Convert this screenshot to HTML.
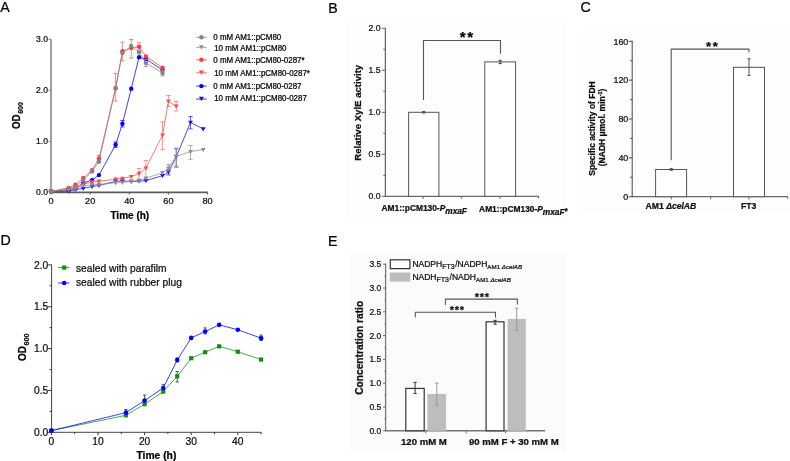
<!DOCTYPE html><html><head><meta charset="utf-8"><style>html,body{margin:0;padding:0;background:#fff;width:790px;height:461px;overflow:hidden}svg{display:block;will-change:transform;filter:blur(0.3px)}text{font-family:"Liberation Sans",sans-serif;stroke:currentColor;stroke-width:0.22px}</style></head><body>
<svg width="790" height="461" viewBox="0 0 790 461">
<rect width="790" height="461" fill="#fff"/>
<rect x="345" y="21.7" width="221" height="195.7" fill="#fdfdfd"/>
<rect x="582" y="29.8" width="208" height="182.2" fill="#fdfdfd"/>
<rect x="350" y="253.8" width="216" height="198" fill="#fbfbfb"/>
<text transform="translate(0.20,11.50) scale(1,1.04)" font-size="14.2" text-anchor="start" fill="#000" >A</text>
<text transform="translate(328.20,12.70) scale(1,1.04)" font-size="14.2" text-anchor="start" fill="#000" >B</text>
<text transform="translate(580.50,12.40) scale(1,1.04)" font-size="14.2" text-anchor="start" fill="#000" >C</text>
<text transform="translate(0.60,245.20) scale(1,1.04)" font-size="14.2" text-anchor="start" fill="#000" >D</text>
<text transform="translate(328.00,245.90) scale(1,1.04)" font-size="14.2" text-anchor="start" fill="#000" >E</text>
<line x1="51.00" y1="39.30" x2="51.00" y2="193.00" stroke="#888" stroke-width="1.6"/>
<line x1="50.20" y1="192.40" x2="207.70" y2="192.40" stroke="#5a5a5a" stroke-width="1.6"/>
<line x1="48.60" y1="39.30" x2="51.00" y2="39.30" stroke="#888" stroke-width="1.2"/>
<text transform="translate(48.00,195.40) scale(1,1.07)" font-size="8.6" text-anchor="end" fill="#111" >0.0</text>
<line x1="48.60" y1="141.35" x2="51.00" y2="141.35" stroke="#888" stroke-width="1.1"/>
<text transform="translate(48.00,144.35) scale(1,1.07)" font-size="8.6" text-anchor="end" fill="#111" >1.0</text>
<line x1="48.60" y1="90.30" x2="51.00" y2="90.30" stroke="#888" stroke-width="1.1"/>
<text transform="translate(48.00,93.30) scale(1,1.07)" font-size="8.6" text-anchor="end" fill="#111" >2.0</text>
<text transform="translate(48.00,42.00) scale(1,1.07)" font-size="8.6" text-anchor="end" fill="#111" >3.0</text>
<line x1="51.00" y1="192.40" x2="51.00" y2="194.40" stroke="#5a5a5a" stroke-width="1.1"/>
<text transform="translate(51.00,203.80) scale(1,1.07)" font-size="9.2" text-anchor="middle" fill="#111" >0</text>
<line x1="90.14" y1="192.40" x2="90.14" y2="194.40" stroke="#5a5a5a" stroke-width="1.1"/>
<text transform="translate(90.14,203.80) scale(1,1.07)" font-size="9.2" text-anchor="middle" fill="#111" >20</text>
<line x1="129.28" y1="192.40" x2="129.28" y2="194.40" stroke="#5a5a5a" stroke-width="1.1"/>
<text transform="translate(129.28,203.80) scale(1,1.07)" font-size="9.2" text-anchor="middle" fill="#111" >40</text>
<line x1="168.42" y1="192.40" x2="168.42" y2="194.40" stroke="#5a5a5a" stroke-width="1.1"/>
<text transform="translate(168.42,203.80) scale(1,1.07)" font-size="9.2" text-anchor="middle" fill="#111" >60</text>
<line x1="207.56" y1="192.40" x2="207.56" y2="194.40" stroke="#5a5a5a" stroke-width="1.1"/>
<text transform="translate(207.56,203.80) scale(1,1.07)" font-size="9.2" text-anchor="middle" fill="#111" >80</text>
<text x="129.80" y="218.70" font-size="10" text-anchor="middle" font-weight="bold" fill="#000" >Time (h)</text>
<text transform="translate(20.4,129.0) rotate(-90) scale(1,1.1)" font-size="9.7" font-weight="bold" fill="#000">OD<tspan font-size="7.1" dy="2.0" dx="0.6">600</tspan></text>
<polyline points="51.00,191.50 68.61,191.00 75.46,189.70 83.29,188.40 92.10,186.50 98.95,185.50 115.58,181.30 122.43,181.00 131.24,181.50 139.06,181.20 145.91,180.60 162.55,175.70 168.42,172.20 176.25,156.80 190.53,122.40 203.25,129.00" fill="none" stroke="#1010f0" stroke-width="0.75" stroke-linejoin="round"/>
<line x1="190.53" y1="116.60" x2="190.53" y2="128.90" stroke="#2a2aee" stroke-width="0.75"/>
<line x1="188.33" y1="116.60" x2="192.73" y2="116.60" stroke="#2a2aee" stroke-width="0.75"/>
<line x1="188.33" y1="128.90" x2="192.73" y2="128.90" stroke="#2a2aee" stroke-width="0.75"/>
<line x1="176.25" y1="148.90" x2="176.25" y2="167.10" stroke="#2a2aee" stroke-width="0.75"/>
<line x1="174.05" y1="148.90" x2="178.45" y2="148.90" stroke="#2a2aee" stroke-width="0.75"/>
<line x1="174.05" y1="167.10" x2="178.45" y2="167.10" stroke="#2a2aee" stroke-width="0.75"/>
<line x1="168.42" y1="170.00" x2="168.42" y2="175.00" stroke="#2a2aee" stroke-width="0.75"/>
<line x1="166.22" y1="170.00" x2="170.62" y2="170.00" stroke="#2a2aee" stroke-width="0.75"/>
<line x1="166.22" y1="175.00" x2="170.62" y2="175.00" stroke="#2a2aee" stroke-width="0.75"/>
<path d="M48.60,189.82L53.40,189.82L51.00,193.90Z" fill="#1010f0"/>
<path d="M66.21,189.32L71.01,189.32L68.61,193.40Z" fill="#1010f0"/>
<path d="M73.06,188.02L77.86,188.02L75.46,192.10Z" fill="#1010f0"/>
<path d="M80.89,186.72L85.69,186.72L83.29,190.80Z" fill="#1010f0"/>
<path d="M89.70,184.82L94.50,184.82L92.10,188.90Z" fill="#1010f0"/>
<path d="M96.55,183.82L101.35,183.82L98.95,187.90Z" fill="#1010f0"/>
<path d="M113.18,179.62L117.98,179.62L115.58,183.70Z" fill="#1010f0"/>
<path d="M120.03,179.32L124.83,179.32L122.43,183.40Z" fill="#1010f0"/>
<path d="M128.84,179.82L133.64,179.82L131.24,183.90Z" fill="#1010f0"/>
<path d="M136.66,179.52L141.47,179.52L139.06,183.60Z" fill="#1010f0"/>
<path d="M143.51,178.92L148.31,178.92L145.91,183.00Z" fill="#1010f0"/>
<path d="M160.15,174.02L164.95,174.02L162.55,178.10Z" fill="#1010f0"/>
<path d="M166.02,170.52L170.82,170.52L168.42,174.60Z" fill="#1010f0"/>
<path d="M173.85,155.12L178.65,155.12L176.25,159.20Z" fill="#1010f0"/>
<path d="M188.13,120.72L192.93,120.72L190.53,124.80Z" fill="#1010f0"/>
<path d="M200.85,127.32L205.65,127.32L203.25,131.40Z" fill="#1010f0"/>
<polyline points="51.00,191.50 68.61,190.30 75.46,188.50 83.29,182.90 92.10,180.10 98.95,175.10 115.58,144.80 122.43,123.80 131.24,88.70 139.06,57.30 145.91,59.20 162.55,70.00" fill="none" stroke="#0000ff" stroke-width="0.75" stroke-linejoin="round"/>
<line x1="122.43" y1="120.50" x2="122.43" y2="127.00" stroke="#2020ff" stroke-width="0.75"/>
<line x1="120.23" y1="120.50" x2="124.63" y2="120.50" stroke="#2020ff" stroke-width="0.75"/>
<line x1="120.23" y1="127.00" x2="124.63" y2="127.00" stroke="#2020ff" stroke-width="0.75"/>
<line x1="115.58" y1="142.00" x2="115.58" y2="147.50" stroke="#2020ff" stroke-width="0.75"/>
<line x1="113.38" y1="142.00" x2="117.78" y2="142.00" stroke="#2020ff" stroke-width="0.75"/>
<line x1="113.38" y1="147.50" x2="117.78" y2="147.50" stroke="#2020ff" stroke-width="0.75"/>
<circle cx="51.00" cy="191.50" r="2.2" fill="#0000ff"/>
<circle cx="68.61" cy="190.30" r="2.2" fill="#0000ff"/>
<circle cx="75.46" cy="188.50" r="2.2" fill="#0000ff"/>
<circle cx="83.29" cy="182.90" r="2.2" fill="#0000ff"/>
<circle cx="92.10" cy="180.10" r="2.2" fill="#0000ff"/>
<circle cx="98.95" cy="175.10" r="2.2" fill="#0000ff"/>
<circle cx="115.58" cy="144.80" r="2.2" fill="#0000ff"/>
<circle cx="122.43" cy="123.80" r="2.2" fill="#0000ff"/>
<circle cx="131.24" cy="88.70" r="2.2" fill="#0000ff"/>
<circle cx="139.06" cy="57.30" r="2.2" fill="#0000ff"/>
<circle cx="145.91" cy="59.20" r="2.2" fill="#0000ff"/>
<circle cx="162.55" cy="70.00" r="2.2" fill="#0000ff"/>
<polyline points="51.00,191.50 68.61,189.50 75.46,187.50 83.29,184.20 92.10,182.00 98.95,181.30 115.58,179.20 122.43,178.40 131.24,176.70 139.06,173.50 145.91,168.20 162.55,135.20 168.42,101.20 176.25,106.30" fill="none" stroke="#ff4a4a" stroke-width="0.75" stroke-linejoin="round"/>
<line x1="162.55" y1="121.80" x2="162.55" y2="149.60" stroke="#f87070" stroke-width="0.75"/>
<line x1="160.35" y1="121.80" x2="164.75" y2="121.80" stroke="#f87070" stroke-width="0.75"/>
<line x1="160.35" y1="149.60" x2="164.75" y2="149.60" stroke="#f87070" stroke-width="0.75"/>
<line x1="168.42" y1="95.50" x2="168.42" y2="106.50" stroke="#f87070" stroke-width="0.75"/>
<line x1="166.22" y1="95.50" x2="170.62" y2="95.50" stroke="#f87070" stroke-width="0.75"/>
<line x1="166.22" y1="106.50" x2="170.62" y2="106.50" stroke="#f87070" stroke-width="0.75"/>
<line x1="176.25" y1="101.50" x2="176.25" y2="111.00" stroke="#f87070" stroke-width="0.75"/>
<line x1="174.05" y1="101.50" x2="178.45" y2="101.50" stroke="#f87070" stroke-width="0.75"/>
<line x1="174.05" y1="111.00" x2="178.45" y2="111.00" stroke="#f87070" stroke-width="0.75"/>
<line x1="145.91" y1="160.50" x2="145.91" y2="177.50" stroke="#f87070" stroke-width="0.75"/>
<line x1="143.71" y1="160.50" x2="148.11" y2="160.50" stroke="#f87070" stroke-width="0.75"/>
<line x1="143.71" y1="177.50" x2="148.11" y2="177.50" stroke="#f87070" stroke-width="0.75"/>
<line x1="139.06" y1="168.50" x2="139.06" y2="179.00" stroke="#f87070" stroke-width="0.75"/>
<line x1="136.87" y1="168.50" x2="141.26" y2="168.50" stroke="#f87070" stroke-width="0.75"/>
<line x1="136.87" y1="179.00" x2="141.26" y2="179.00" stroke="#f87070" stroke-width="0.75"/>
<path d="M48.60,189.82L53.40,189.82L51.00,193.90Z" fill="#ff4a4a"/>
<path d="M66.21,187.82L71.01,187.82L68.61,191.90Z" fill="#ff4a4a"/>
<path d="M73.06,185.82L77.86,185.82L75.46,189.90Z" fill="#ff4a4a"/>
<path d="M80.89,182.52L85.69,182.52L83.29,186.60Z" fill="#ff4a4a"/>
<path d="M89.70,180.32L94.50,180.32L92.10,184.40Z" fill="#ff4a4a"/>
<path d="M96.55,179.62L101.35,179.62L98.95,183.70Z" fill="#ff4a4a"/>
<path d="M113.18,177.52L117.98,177.52L115.58,181.60Z" fill="#ff4a4a"/>
<path d="M120.03,176.72L124.83,176.72L122.43,180.80Z" fill="#ff4a4a"/>
<path d="M128.84,175.02L133.64,175.02L131.24,179.10Z" fill="#ff4a4a"/>
<path d="M136.66,171.82L141.47,171.82L139.06,175.90Z" fill="#ff4a4a"/>
<path d="M143.51,166.52L148.31,166.52L145.91,170.60Z" fill="#ff4a4a"/>
<path d="M160.15,133.52L164.95,133.52L162.55,137.60Z" fill="#ff4a4a"/>
<path d="M166.02,99.52L170.82,99.52L168.42,103.60Z" fill="#ff4a4a"/>
<path d="M173.85,104.62L178.65,104.62L176.25,108.70Z" fill="#ff4a4a"/>
<polyline points="51.00,191.50 68.61,188.00 75.46,184.60 83.29,178.00 92.10,170.20 98.95,158.50 115.58,88.00 122.43,51.20 131.24,48.00 139.06,46.80 145.91,56.40 162.55,67.80" fill="none" stroke="#ff3b3b" stroke-width="0.75" stroke-linejoin="round"/>
<line x1="115.58" y1="73.40" x2="115.58" y2="101.20" stroke="#f56a6a" stroke-width="0.75"/>
<line x1="113.38" y1="73.40" x2="117.78" y2="73.40" stroke="#f56a6a" stroke-width="0.75"/>
<line x1="113.38" y1="101.20" x2="117.78" y2="101.20" stroke="#f56a6a" stroke-width="0.75"/>
<line x1="122.43" y1="42.20" x2="122.43" y2="60.90" stroke="#f56a6a" stroke-width="0.75"/>
<line x1="120.23" y1="42.20" x2="124.63" y2="42.20" stroke="#f56a6a" stroke-width="0.75"/>
<line x1="120.23" y1="60.90" x2="124.63" y2="60.90" stroke="#f56a6a" stroke-width="0.75"/>
<line x1="139.06" y1="42.80" x2="139.06" y2="50.00" stroke="#f56a6a" stroke-width="0.75"/>
<line x1="136.87" y1="42.80" x2="141.26" y2="42.80" stroke="#f56a6a" stroke-width="0.75"/>
<line x1="136.87" y1="50.00" x2="141.26" y2="50.00" stroke="#f56a6a" stroke-width="0.75"/>
<line x1="98.95" y1="155.50" x2="98.95" y2="161.00" stroke="#f56a6a" stroke-width="0.75"/>
<line x1="96.75" y1="155.50" x2="101.15" y2="155.50" stroke="#f56a6a" stroke-width="0.75"/>
<line x1="96.75" y1="161.00" x2="101.15" y2="161.00" stroke="#f56a6a" stroke-width="0.75"/>
<circle cx="51.00" cy="191.50" r="2.2" fill="#ff3b3b"/>
<circle cx="68.61" cy="188.00" r="2.2" fill="#ff3b3b"/>
<circle cx="75.46" cy="184.60" r="2.2" fill="#ff3b3b"/>
<circle cx="83.29" cy="178.00" r="2.2" fill="#ff3b3b"/>
<circle cx="92.10" cy="170.20" r="2.2" fill="#ff3b3b"/>
<circle cx="98.95" cy="158.50" r="2.2" fill="#ff3b3b"/>
<circle cx="115.58" cy="88.00" r="2.2" fill="#ff3b3b"/>
<circle cx="122.43" cy="51.20" r="2.2" fill="#ff3b3b"/>
<circle cx="131.24" cy="48.00" r="2.2" fill="#ff3b3b"/>
<circle cx="139.06" cy="46.80" r="2.2" fill="#ff3b3b"/>
<circle cx="145.91" cy="56.40" r="2.2" fill="#ff3b3b"/>
<circle cx="162.55" cy="67.80" r="2.2" fill="#ff3b3b"/>
<polyline points="51.00,191.50 68.61,190.00 75.46,189.00 83.29,185.80 92.10,184.80 98.95,184.50 115.58,182.80 122.43,182.50 131.24,181.20 139.06,180.60 145.91,178.30 162.55,172.60 168.42,168.10 176.25,156.40 190.53,151.60 203.25,149.60" fill="none" stroke="#8f8f8f" stroke-width="0.75" stroke-linejoin="round"/>
<line x1="190.53" y1="145.50" x2="190.53" y2="159.30" stroke="#959595" stroke-width="0.75"/>
<line x1="188.33" y1="145.50" x2="192.73" y2="145.50" stroke="#959595" stroke-width="0.75"/>
<line x1="188.33" y1="159.30" x2="192.73" y2="159.30" stroke="#959595" stroke-width="0.75"/>
<line x1="176.25" y1="148.00" x2="176.25" y2="166.00" stroke="#959595" stroke-width="0.75"/>
<line x1="174.05" y1="148.00" x2="178.45" y2="148.00" stroke="#959595" stroke-width="0.75"/>
<line x1="174.05" y1="166.00" x2="178.45" y2="166.00" stroke="#959595" stroke-width="0.75"/>
<line x1="168.42" y1="164.50" x2="168.42" y2="171.00" stroke="#959595" stroke-width="0.75"/>
<line x1="166.22" y1="164.50" x2="170.62" y2="164.50" stroke="#959595" stroke-width="0.75"/>
<line x1="166.22" y1="171.00" x2="170.62" y2="171.00" stroke="#959595" stroke-width="0.75"/>
<path d="M48.60,189.82L53.40,189.82L51.00,193.90Z" fill="#8f8f8f"/>
<path d="M66.21,188.32L71.01,188.32L68.61,192.40Z" fill="#8f8f8f"/>
<path d="M73.06,187.32L77.86,187.32L75.46,191.40Z" fill="#8f8f8f"/>
<path d="M80.89,184.12L85.69,184.12L83.29,188.20Z" fill="#8f8f8f"/>
<path d="M89.70,183.12L94.50,183.12L92.10,187.20Z" fill="#8f8f8f"/>
<path d="M96.55,182.82L101.35,182.82L98.95,186.90Z" fill="#8f8f8f"/>
<path d="M113.18,181.12L117.98,181.12L115.58,185.20Z" fill="#8f8f8f"/>
<path d="M120.03,180.82L124.83,180.82L122.43,184.90Z" fill="#8f8f8f"/>
<path d="M128.84,179.52L133.64,179.52L131.24,183.60Z" fill="#8f8f8f"/>
<path d="M136.66,178.92L141.47,178.92L139.06,183.00Z" fill="#8f8f8f"/>
<path d="M143.51,176.62L148.31,176.62L145.91,180.70Z" fill="#8f8f8f"/>
<path d="M160.15,170.92L164.95,170.92L162.55,175.00Z" fill="#8f8f8f"/>
<path d="M166.02,166.42L170.82,166.42L168.42,170.50Z" fill="#8f8f8f"/>
<path d="M173.85,154.72L178.65,154.72L176.25,158.80Z" fill="#8f8f8f"/>
<path d="M188.13,149.92L192.93,149.92L190.53,154.00Z" fill="#8f8f8f"/>
<path d="M200.85,147.92L205.65,147.92L203.25,152.00Z" fill="#8f8f8f"/>
<polyline points="51.00,191.50 68.61,188.20 75.46,186.70 83.29,180.00 92.10,171.50 98.95,161.70 115.58,88.50 122.43,53.10 131.24,46.00 139.06,52.20 145.91,63.00 162.55,73.00" fill="none" stroke="#858585" stroke-width="0.75" stroke-linejoin="round"/>
<line x1="131.24" y1="39.50" x2="131.24" y2="58.10" stroke="#8a8a8a" stroke-width="0.75"/>
<line x1="129.04" y1="39.50" x2="133.44" y2="39.50" stroke="#8a8a8a" stroke-width="0.75"/>
<line x1="129.04" y1="58.10" x2="133.44" y2="58.10" stroke="#8a8a8a" stroke-width="0.75"/>
<line x1="145.91" y1="59.50" x2="145.91" y2="66.50" stroke="#8a8a8a" stroke-width="0.75"/>
<line x1="143.71" y1="59.50" x2="148.11" y2="59.50" stroke="#8a8a8a" stroke-width="0.75"/>
<line x1="143.71" y1="66.50" x2="148.11" y2="66.50" stroke="#8a8a8a" stroke-width="0.75"/>
<line x1="162.55" y1="70.50" x2="162.55" y2="75.80" stroke="#8a8a8a" stroke-width="0.75"/>
<line x1="160.35" y1="70.50" x2="164.75" y2="70.50" stroke="#8a8a8a" stroke-width="0.75"/>
<line x1="160.35" y1="75.80" x2="164.75" y2="75.80" stroke="#8a8a8a" stroke-width="0.75"/>
<circle cx="51.00" cy="191.50" r="2.2" fill="#858585"/>
<circle cx="68.61" cy="188.20" r="2.2" fill="#858585"/>
<circle cx="75.46" cy="186.70" r="2.2" fill="#858585"/>
<circle cx="83.29" cy="180.00" r="2.2" fill="#858585"/>
<circle cx="92.10" cy="171.50" r="2.2" fill="#858585"/>
<circle cx="98.95" cy="161.70" r="2.2" fill="#858585"/>
<circle cx="115.58" cy="88.50" r="2.2" fill="#858585"/>
<circle cx="122.43" cy="53.10" r="2.2" fill="#858585"/>
<circle cx="131.24" cy="46.00" r="2.2" fill="#858585"/>
<circle cx="139.06" cy="52.20" r="2.2" fill="#858585"/>
<circle cx="145.91" cy="63.00" r="2.2" fill="#858585"/>
<circle cx="162.55" cy="73.00" r="2.2" fill="#858585"/>
<line x1="196.20" y1="37.30" x2="206.70" y2="37.30" stroke="#858585" stroke-width="0.8"/>
<circle cx="201.40" cy="37.30" r="2.2" fill="#858585"/>
<text transform="translate(213.30,40.40) scale(1,1.07)" font-size="7.95" text-anchor="start" fill="#000" >0 mM AM1::pCM80</text>
<line x1="196.20" y1="47.60" x2="206.70" y2="47.60" stroke="#8f8f8f" stroke-width="0.8"/>
<path d="M198.90,45.35L203.90,45.35L201.40,49.60Z" fill="#8f8f8f"/>
<text transform="translate(214.20,50.80) scale(1,1.07)" font-size="7.95" text-anchor="start" fill="#000" >10 mM AM1::pCM80</text>
<line x1="196.20" y1="59.80" x2="206.70" y2="59.80" stroke="#ff3b3b" stroke-width="0.8"/>
<circle cx="201.40" cy="59.80" r="2.2" fill="#ff3b3b"/>
<text transform="translate(213.30,62.80) scale(1,1.07)" font-size="7.95" text-anchor="start" fill="#000" >0 mM AM1::pCM80-0287*</text>
<line x1="196.20" y1="72.80" x2="206.70" y2="72.80" stroke="#ff4a4a" stroke-width="0.8"/>
<path d="M198.90,70.55L203.90,70.55L201.40,74.80Z" fill="#ff4a4a"/>
<text transform="translate(214.20,75.80) scale(1,1.07)" font-size="7.95" text-anchor="start" fill="#000" >10 mM AM1::pCM80-0287*</text>
<line x1="196.20" y1="86.10" x2="206.70" y2="86.10" stroke="#0000ff" stroke-width="0.8"/>
<circle cx="201.40" cy="86.10" r="2.2" fill="#0000ff"/>
<text transform="translate(213.30,88.70) scale(1,1.07)" font-size="7.95" text-anchor="start" fill="#000" >0 mM AM1::pCM80-0287</text>
<line x1="196.20" y1="99.10" x2="206.70" y2="99.10" stroke="#1010f0" stroke-width="0.8"/>
<path d="M198.90,96.85L203.90,96.85L201.40,101.10Z" fill="#1010f0"/>
<text transform="translate(214.20,101.40) scale(1,1.07)" font-size="7.95" text-anchor="start" fill="#000" >10 mM AM1::pCM80-0287</text>
<line x1="385.30" y1="28.00" x2="385.30" y2="196.80" stroke="#444" stroke-width="1.0"/>
<line x1="385.30" y1="196.30" x2="538.70" y2="196.30" stroke="#444" stroke-width="1.0"/>
<line x1="538.70" y1="196.30" x2="538.70" y2="198.30" stroke="#444" stroke-width="1.0"/>
<line x1="381.80" y1="196.30" x2="385.30" y2="196.30" stroke="#666" stroke-width="1"/>
<text transform="translate(380.50,199.30) scale(1,1.07)" font-size="8.6" text-anchor="end" fill="#111" >0.0</text>
<line x1="383.30" y1="175.30" x2="385.30" y2="175.30" stroke="#666" stroke-width="1"/>
<line x1="381.80" y1="154.30" x2="385.30" y2="154.30" stroke="#666" stroke-width="1"/>
<text transform="translate(380.50,157.30) scale(1,1.07)" font-size="8.6" text-anchor="end" fill="#111" >0.5</text>
<line x1="383.30" y1="133.30" x2="385.30" y2="133.30" stroke="#666" stroke-width="1"/>
<line x1="381.80" y1="112.30" x2="385.30" y2="112.30" stroke="#666" stroke-width="1"/>
<text transform="translate(380.50,115.30) scale(1,1.07)" font-size="8.6" text-anchor="end" fill="#111" >1.0</text>
<line x1="383.30" y1="91.30" x2="385.30" y2="91.30" stroke="#666" stroke-width="1"/>
<line x1="381.80" y1="70.30" x2="385.30" y2="70.30" stroke="#666" stroke-width="1"/>
<text transform="translate(380.50,73.30) scale(1,1.07)" font-size="8.6" text-anchor="end" fill="#111" >1.5</text>
<line x1="383.30" y1="49.30" x2="385.30" y2="49.30" stroke="#666" stroke-width="1"/>
<line x1="381.80" y1="28.30" x2="385.30" y2="28.30" stroke="#666" stroke-width="1"/>
<text transform="translate(380.50,31.30) scale(1,1.07)" font-size="8.6" text-anchor="end" fill="#111" >2.0</text>
<line x1="423.10" y1="196.30" x2="423.10" y2="199.00" stroke="#666" stroke-width="1"/>
<line x1="461.70" y1="196.30" x2="461.70" y2="199.00" stroke="#666" stroke-width="1"/>
<line x1="500.10" y1="196.30" x2="500.10" y2="199.00" stroke="#666" stroke-width="1"/>
<rect x="408.6" y="112.30" width="30.3" height="84.00" fill="#fff" stroke="#555" stroke-width="1"/>
<rect x="484.8" y="61.90" width="30.8" height="134.40" fill="#fff" stroke="#555" stroke-width="1"/>
<line x1="423.70" y1="111.60" x2="423.70" y2="113.00" stroke="#444" stroke-width="1"/>
<line x1="422.10" y1="111.60" x2="425.30" y2="111.60" stroke="#444" stroke-width="1"/>
<line x1="422.10" y1="113.00" x2="425.30" y2="113.00" stroke="#444" stroke-width="1"/>
<line x1="500.20" y1="60.30" x2="500.20" y2="63.60" stroke="#444" stroke-width="1"/>
<line x1="498.60" y1="60.30" x2="501.80" y2="60.30" stroke="#444" stroke-width="1"/>
<line x1="498.60" y1="63.60" x2="501.80" y2="63.60" stroke="#444" stroke-width="1"/>
<polyline points="423.50,99.90 423.50,40.50 500.50,40.50 500.50,53.70" fill="none" stroke="#555" stroke-width="1.1" stroke-linejoin="round"/>
<text x="462.60" y="42.10" font-size="15" text-anchor="middle" font-weight="bold" fill="#000" >*</text>
<text x="470.10" y="42.10" font-size="15" text-anchor="middle" font-weight="bold" fill="#000" >*</text>
<text transform="translate(360.9,112.8) rotate(-90)" font-size="9.6" font-weight="bold" text-anchor="middle" fill="#111">Relative XylE activity</text>
<text x="381.5" y="210.5" font-size="8.4" font-weight="bold" fill="#111">AM1::pCM130-<tspan font-style="italic">P</tspan><tspan font-style="italic" font-size="8.3" dy="3.3">mxaF</tspan></text>
<text x="479.1" y="211.6" font-size="8.4" font-weight="bold" fill="#111">AM1::pCM130-<tspan font-style="italic">P</tspan><tspan font-style="italic" font-size="8.3" dy="3.0">mxaF</tspan><tspan font-size="8.4" dy="-0.6">*</tspan></text>
<line x1="632.20" y1="40.80" x2="632.20" y2="197.20" stroke="#444" stroke-width="1.0"/>
<line x1="632.20" y1="196.70" x2="787.70" y2="196.70" stroke="#444" stroke-width="1.0"/>
<line x1="787.70" y1="196.70" x2="787.70" y2="198.70" stroke="#555" stroke-width="1.0"/>
<line x1="628.70" y1="196.70" x2="632.20" y2="196.70" stroke="#444" stroke-width="1"/>
<text transform="translate(628.30,199.90) scale(1,1.07)" font-size="8.9" text-anchor="end" fill="#111" >0</text>
<line x1="630.20" y1="177.27" x2="632.20" y2="177.27" stroke="#444" stroke-width="1"/>
<line x1="628.70" y1="157.85" x2="632.20" y2="157.85" stroke="#444" stroke-width="1"/>
<text transform="translate(628.30,161.05) scale(1,1.07)" font-size="8.9" text-anchor="end" fill="#111" >40</text>
<line x1="630.20" y1="138.42" x2="632.20" y2="138.42" stroke="#444" stroke-width="1"/>
<line x1="628.70" y1="119.00" x2="632.20" y2="119.00" stroke="#444" stroke-width="1"/>
<text transform="translate(628.30,122.20) scale(1,1.07)" font-size="8.9" text-anchor="end" fill="#111" >80</text>
<line x1="630.20" y1="99.57" x2="632.20" y2="99.57" stroke="#444" stroke-width="1"/>
<line x1="628.70" y1="80.15" x2="632.20" y2="80.15" stroke="#444" stroke-width="1"/>
<text transform="translate(628.30,83.35) scale(1,1.07)" font-size="8.9" text-anchor="end" fill="#111" >120</text>
<line x1="630.20" y1="60.72" x2="632.20" y2="60.72" stroke="#444" stroke-width="1"/>
<line x1="628.70" y1="41.30" x2="632.20" y2="41.30" stroke="#444" stroke-width="1"/>
<text transform="translate(628.30,44.50) scale(1,1.07)" font-size="8.9" text-anchor="end" fill="#111" >160</text>
<line x1="671.30" y1="196.70" x2="671.30" y2="199.40" stroke="#666" stroke-width="1"/>
<line x1="710.70" y1="196.70" x2="710.70" y2="199.40" stroke="#666" stroke-width="1"/>
<line x1="748.90" y1="196.70" x2="748.90" y2="199.40" stroke="#666" stroke-width="1"/>
<rect x="655.6" y="169.50" width="31.0" height="27.19" fill="#fff" stroke="#555" stroke-width="1"/>
<rect x="733.5" y="67.33" width="31.0" height="129.37" fill="#fff" stroke="#555" stroke-width="1"/>
<line x1="671.20" y1="168.60" x2="671.20" y2="170.30" stroke="#555" stroke-width="1"/>
<line x1="669.60" y1="168.60" x2="672.80" y2="168.60" stroke="#555" stroke-width="1"/>
<line x1="669.60" y1="170.30" x2="672.80" y2="170.30" stroke="#555" stroke-width="1"/>
<line x1="749.00" y1="58.80" x2="749.00" y2="75.50" stroke="#555" stroke-width="1"/>
<line x1="747.40" y1="58.80" x2="750.60" y2="58.80" stroke="#555" stroke-width="1"/>
<line x1="747.40" y1="75.50" x2="750.60" y2="75.50" stroke="#555" stroke-width="1"/>
<polyline points="671.20,160.20 671.20,49.10 749.00,49.10 749.00,52.50" fill="none" stroke="#555" stroke-width="1.1" stroke-linejoin="round"/>
<text x="708.60" y="51.30" font-size="13" text-anchor="middle" font-weight="bold" fill="#000" >*</text>
<text x="715.20" y="51.30" font-size="13" text-anchor="middle" font-weight="bold" fill="#000" >*</text>
<text transform="translate(595.0,128.5) rotate(-90)" font-size="8.5" font-weight="bold" text-anchor="middle" fill="#111">Specific activity of FDH</text>
<text transform="translate(605.1,127.4) rotate(-90)" font-size="8.5" font-weight="bold" text-anchor="middle" fill="#111">(NADH μmol. min<tspan font-size="5.5" dy="-3">-1</tspan><tspan dy="3">)</tspan></text>
<text x="645.6" y="209.2" font-size="8.6" font-weight="bold" fill="#111">AM1 <tspan font-style="italic">ΔcelAB</tspan></text>
<text x="748.60" y="209.20" font-size="8.6" text-anchor="middle" font-weight="bold" fill="#111" >FT3</text>
<line x1="51.60" y1="264.50" x2="51.60" y2="432.80" stroke="#444" stroke-width="1.0"/>
<line x1="51.60" y1="432.30" x2="261.50" y2="432.30" stroke="#444" stroke-width="1.0"/>
<line x1="48.10" y1="432.30" x2="51.60" y2="432.30" stroke="#333" stroke-width="1"/>
<text transform="translate(48.30,435.90) scale(1,1.07)" font-size="10.3" text-anchor="end" fill="#111" >0.0</text>
<line x1="49.60" y1="411.38" x2="51.60" y2="411.38" stroke="#333" stroke-width="1"/>
<line x1="48.10" y1="390.45" x2="51.60" y2="390.45" stroke="#333" stroke-width="1"/>
<text transform="translate(48.30,394.05) scale(1,1.07)" font-size="10.3" text-anchor="end" fill="#111" >0.5</text>
<line x1="49.60" y1="369.52" x2="51.60" y2="369.52" stroke="#333" stroke-width="1"/>
<line x1="48.10" y1="348.60" x2="51.60" y2="348.60" stroke="#333" stroke-width="1"/>
<text transform="translate(48.30,352.20) scale(1,1.07)" font-size="10.3" text-anchor="end" fill="#111" >1.0</text>
<line x1="49.60" y1="327.68" x2="51.60" y2="327.68" stroke="#333" stroke-width="1"/>
<line x1="48.10" y1="306.75" x2="51.60" y2="306.75" stroke="#333" stroke-width="1"/>
<text transform="translate(48.30,310.35) scale(1,1.07)" font-size="10.3" text-anchor="end" fill="#111" >1.5</text>
<line x1="49.60" y1="285.83" x2="51.60" y2="285.83" stroke="#333" stroke-width="1"/>
<line x1="48.10" y1="264.90" x2="51.60" y2="264.90" stroke="#333" stroke-width="1"/>
<text transform="translate(48.30,268.50) scale(1,1.07)" font-size="10.3" text-anchor="end" fill="#111" >2.0</text>
<line x1="51.40" y1="432.30" x2="51.40" y2="435.10" stroke="#333" stroke-width="1"/>
<text transform="translate(51.40,445.00) scale(1,1.07)" font-size="10.3" text-anchor="middle" fill="#111" >0</text>
<line x1="74.70" y1="432.30" x2="74.70" y2="434.10" stroke="#333" stroke-width="1"/>
<line x1="98.00" y1="432.30" x2="98.00" y2="435.10" stroke="#333" stroke-width="1"/>
<text transform="translate(98.00,445.00) scale(1,1.07)" font-size="10.3" text-anchor="middle" fill="#111" >10</text>
<line x1="121.30" y1="432.30" x2="121.30" y2="434.10" stroke="#333" stroke-width="1"/>
<line x1="144.60" y1="432.30" x2="144.60" y2="435.10" stroke="#333" stroke-width="1"/>
<text transform="translate(144.60,445.00) scale(1,1.07)" font-size="10.3" text-anchor="middle" fill="#111" >20</text>
<line x1="167.90" y1="432.30" x2="167.90" y2="434.10" stroke="#333" stroke-width="1"/>
<line x1="191.20" y1="432.30" x2="191.20" y2="435.10" stroke="#333" stroke-width="1"/>
<text transform="translate(191.20,445.00) scale(1,1.07)" font-size="10.3" text-anchor="middle" fill="#111" >30</text>
<line x1="214.50" y1="432.30" x2="214.50" y2="434.10" stroke="#333" stroke-width="1"/>
<line x1="237.80" y1="432.30" x2="237.80" y2="435.10" stroke="#333" stroke-width="1"/>
<text transform="translate(237.80,445.00) scale(1,1.07)" font-size="10.3" text-anchor="middle" fill="#111" >40</text>
<line x1="261.10" y1="432.30" x2="261.10" y2="434.10" stroke="#333" stroke-width="1"/>
<text x="156.40" y="458.60" font-size="10.3" text-anchor="middle" font-weight="bold" fill="#000" >Time (h)</text>
<text transform="translate(26.3,361.0) rotate(-90)" font-size="10.0" font-weight="bold" fill="#000">OD<tspan font-size="7.2" dy="2.5" dx="0.4">600</tspan></text>
<polyline points="51.40,430.63 125.96,415.31 144.60,404.18 163.24,391.62 177.22,376.30 191.20,358.23 205.18,352.20 219.16,346.34 237.80,351.70 261.10,359.56" fill="none" stroke="#158a15" stroke-width="0.75" stroke-linejoin="round"/>
<polyline points="51.40,430.63 125.96,412.63 144.60,400.58 163.24,388.02 177.22,360.07 191.20,337.89 205.18,331.53 219.16,324.83 237.80,329.77 261.10,338.14" fill="none" stroke="#0000ff" stroke-width="0.75" stroke-linejoin="round"/>
<line x1="125.96" y1="409.50" x2="125.96" y2="415.00" stroke="#555" stroke-width="1"/>
<line x1="124.36" y1="409.50" x2="127.56" y2="409.50" stroke="#555" stroke-width="1"/>
<line x1="124.36" y1="415.00" x2="127.56" y2="415.00" stroke="#555" stroke-width="1"/>
<line x1="144.60" y1="395.10" x2="144.60" y2="405.00" stroke="#555" stroke-width="1"/>
<line x1="143.00" y1="395.10" x2="146.20" y2="395.10" stroke="#555" stroke-width="1"/>
<line x1="143.00" y1="405.00" x2="146.20" y2="405.00" stroke="#555" stroke-width="1"/>
<line x1="163.24" y1="384.40" x2="163.24" y2="390.00" stroke="#555" stroke-width="1"/>
<line x1="161.64" y1="384.40" x2="164.84" y2="384.40" stroke="#555" stroke-width="1"/>
<line x1="161.64" y1="390.00" x2="164.84" y2="390.00" stroke="#555" stroke-width="1"/>
<line x1="177.22" y1="371.50" x2="177.22" y2="382.00" stroke="#555" stroke-width="1"/>
<line x1="175.62" y1="371.50" x2="178.82" y2="371.50" stroke="#555" stroke-width="1"/>
<line x1="175.62" y1="382.00" x2="178.82" y2="382.00" stroke="#555" stroke-width="1"/>
<line x1="205.18" y1="327.90" x2="205.18" y2="334.00" stroke="#555" stroke-width="1"/>
<line x1="203.58" y1="327.90" x2="206.78" y2="327.90" stroke="#555" stroke-width="1"/>
<line x1="203.58" y1="334.00" x2="206.78" y2="334.00" stroke="#555" stroke-width="1"/>
<line x1="261.10" y1="335.00" x2="261.10" y2="340.50" stroke="#555" stroke-width="1"/>
<line x1="259.50" y1="335.00" x2="262.70" y2="335.00" stroke="#555" stroke-width="1"/>
<line x1="259.50" y1="340.50" x2="262.70" y2="340.50" stroke="#555" stroke-width="1"/>
<line x1="177.22" y1="357.80" x2="177.22" y2="362.00" stroke="#555" stroke-width="1"/>
<line x1="175.62" y1="357.80" x2="178.82" y2="357.80" stroke="#555" stroke-width="1"/>
<line x1="175.62" y1="362.00" x2="178.82" y2="362.00" stroke="#555" stroke-width="1"/>
<rect x="49.30" y="428.53" width="4.20" height="4.20" fill="#158a15"/>
<rect x="123.86" y="413.21" width="4.20" height="4.20" fill="#158a15"/>
<rect x="142.50" y="402.08" width="4.20" height="4.20" fill="#158a15"/>
<rect x="161.14" y="389.52" width="4.20" height="4.20" fill="#158a15"/>
<rect x="175.12" y="374.20" width="4.20" height="4.20" fill="#158a15"/>
<rect x="189.10" y="356.13" width="4.20" height="4.20" fill="#158a15"/>
<rect x="203.08" y="350.10" width="4.20" height="4.20" fill="#158a15"/>
<rect x="217.06" y="344.24" width="4.20" height="4.20" fill="#158a15"/>
<rect x="235.70" y="349.60" width="4.20" height="4.20" fill="#158a15"/>
<rect x="259.00" y="357.46" width="4.20" height="4.20" fill="#158a15"/>
<circle cx="51.40" cy="430.63" r="2.3" fill="#0000ff"/>
<circle cx="125.96" cy="412.63" r="2.3" fill="#0000ff"/>
<circle cx="144.60" cy="400.58" r="2.3" fill="#0000ff"/>
<circle cx="163.24" cy="388.02" r="2.3" fill="#0000ff"/>
<circle cx="177.22" cy="360.07" r="2.3" fill="#0000ff"/>
<circle cx="191.20" cy="337.89" r="2.3" fill="#0000ff"/>
<circle cx="205.18" cy="331.53" r="2.3" fill="#0000ff"/>
<circle cx="219.16" cy="324.83" r="2.3" fill="#0000ff"/>
<circle cx="237.80" cy="329.77" r="2.3" fill="#0000ff"/>
<circle cx="261.10" cy="338.14" r="2.3" fill="#0000ff"/>
<line x1="58.00" y1="267.60" x2="69.40" y2="267.60" stroke="#158a15" stroke-width="0.8"/>
<rect x="62.10" y="265.50" width="4.20" height="4.20" fill="#158a15"/>
<line x1="58.00" y1="283.00" x2="69.40" y2="283.00" stroke="#0000ff" stroke-width="0.8"/>
<circle cx="64.20" cy="283.00" r="2.3" fill="#0000ff"/>
<text transform="translate(76.00,271.70) scale(1,1.07)" font-size="10.25" text-anchor="start" fill="#111" >sealed with parafilm</text>
<text transform="translate(76.00,286.40) scale(1,1.07)" font-size="10.25" text-anchor="start" fill="#111" >sealed with rubber plug</text>
<line x1="385.60" y1="263.50" x2="385.60" y2="431.30" stroke="#777" stroke-width="1.3"/>
<line x1="385.60" y1="430.70" x2="545.20" y2="430.70" stroke="#777" stroke-width="1.6"/>
<line x1="383.00" y1="430.80" x2="385.60" y2="430.80" stroke="#666" stroke-width="1"/>
<text transform="translate(381.20,433.80) scale(1,1.07)" font-size="8.5" text-anchor="end" fill="#111" >0.0</text>
<line x1="384.40" y1="418.90" x2="385.60" y2="418.90" stroke="#777" stroke-width="1"/>
<line x1="383.00" y1="407.00" x2="385.60" y2="407.00" stroke="#666" stroke-width="1"/>
<text transform="translate(381.20,410.00) scale(1,1.07)" font-size="8.5" text-anchor="end" fill="#111" >0.5</text>
<line x1="384.40" y1="395.10" x2="385.60" y2="395.10" stroke="#777" stroke-width="1"/>
<line x1="383.00" y1="383.20" x2="385.60" y2="383.20" stroke="#666" stroke-width="1"/>
<text transform="translate(381.20,386.20) scale(1,1.07)" font-size="8.5" text-anchor="end" fill="#111" >1.0</text>
<line x1="384.40" y1="371.30" x2="385.60" y2="371.30" stroke="#777" stroke-width="1"/>
<line x1="383.00" y1="359.40" x2="385.60" y2="359.40" stroke="#666" stroke-width="1"/>
<text transform="translate(381.20,362.40) scale(1,1.07)" font-size="8.5" text-anchor="end" fill="#111" >1.5</text>
<line x1="384.40" y1="347.50" x2="385.60" y2="347.50" stroke="#777" stroke-width="1"/>
<line x1="383.00" y1="335.60" x2="385.60" y2="335.60" stroke="#666" stroke-width="1"/>
<text transform="translate(381.20,338.60) scale(1,1.07)" font-size="8.5" text-anchor="end" fill="#111" >2.0</text>
<line x1="384.40" y1="323.70" x2="385.60" y2="323.70" stroke="#777" stroke-width="1"/>
<line x1="383.00" y1="311.80" x2="385.60" y2="311.80" stroke="#666" stroke-width="1"/>
<text transform="translate(381.20,314.80) scale(1,1.07)" font-size="8.5" text-anchor="end" fill="#111" >2.5</text>
<line x1="384.40" y1="299.90" x2="385.60" y2="299.90" stroke="#777" stroke-width="1"/>
<line x1="383.00" y1="288.00" x2="385.60" y2="288.00" stroke="#666" stroke-width="1"/>
<text transform="translate(381.20,291.00) scale(1,1.07)" font-size="8.5" text-anchor="end" fill="#111" >3.0</text>
<line x1="384.40" y1="276.10" x2="385.60" y2="276.10" stroke="#777" stroke-width="1"/>
<line x1="383.00" y1="264.20" x2="385.60" y2="264.20" stroke="#666" stroke-width="1"/>
<text transform="translate(381.20,267.20) scale(1,1.07)" font-size="8.5" text-anchor="end" fill="#111" >3.5</text>
<line x1="425.60" y1="430.80" x2="425.60" y2="433.50" stroke="#777" stroke-width="1"/>
<line x1="466.10" y1="430.80" x2="466.10" y2="433.50" stroke="#777" stroke-width="1"/>
<line x1="505.50" y1="430.80" x2="505.50" y2="433.50" stroke="#777" stroke-width="1"/>
<rect x="405.80" y="388.44" width="18.40" height="42.36" fill="#fff" stroke="#333" stroke-width="1.2"/>
<rect x="427.40" y="393.91" width="18.70" height="36.89" fill="#bdbdbd" stroke="none" stroke-width="0"/>
<rect x="486.10" y="321.80" width="17.90" height="109.00" fill="#fff" stroke="#333" stroke-width="1.2"/>
<rect x="507.60" y="318.94" width="18.20" height="111.86" fill="#bdbdbd" stroke="none" stroke-width="0"/>
<line x1="415.10" y1="382.30" x2="415.10" y2="393.50" stroke="#333" stroke-width="1"/>
<line x1="413.50" y1="382.30" x2="416.70" y2="382.30" stroke="#333" stroke-width="1"/>
<line x1="413.50" y1="393.50" x2="416.70" y2="393.50" stroke="#333" stroke-width="1"/>
<line x1="436.80" y1="383.20" x2="436.80" y2="405.10" stroke="#999" stroke-width="1"/>
<line x1="435.20" y1="383.20" x2="438.40" y2="383.20" stroke="#999" stroke-width="1"/>
<line x1="435.20" y1="405.10" x2="438.40" y2="405.10" stroke="#999" stroke-width="1"/>
<line x1="495.10" y1="320.30" x2="495.10" y2="324.20" stroke="#333" stroke-width="1"/>
<line x1="493.50" y1="320.30" x2="496.70" y2="320.30" stroke="#333" stroke-width="1"/>
<line x1="493.50" y1="324.20" x2="496.70" y2="324.20" stroke="#333" stroke-width="1"/>
<line x1="516.70" y1="308.20" x2="516.70" y2="330.10" stroke="#999" stroke-width="1"/>
<line x1="515.10" y1="308.20" x2="518.30" y2="308.20" stroke="#999" stroke-width="1"/>
<line x1="515.10" y1="330.10" x2="518.30" y2="330.10" stroke="#999" stroke-width="1"/>
<polyline points="415.30,317.40 415.30,312.30 495.50,312.30 495.50,317.40" fill="none" stroke="#555" stroke-width="1.05" stroke-linejoin="round"/>
<polyline points="445.40,305.00 445.40,299.10 517.40,299.10 517.40,304.40" fill="none" stroke="#555" stroke-width="1.05" stroke-linejoin="round"/>
<text x="451.80" y="313.80" font-size="11" text-anchor="middle" font-weight="bold" fill="#111" >*</text>
<text x="456.80" y="313.80" font-size="11" text-anchor="middle" font-weight="bold" fill="#111" >*</text>
<text x="461.80" y="313.80" font-size="11" text-anchor="middle" font-weight="bold" fill="#111" >*</text>
<text x="477.00" y="300.80" font-size="11" text-anchor="middle" font-weight="bold" fill="#111" >*</text>
<text x="482.00" y="300.80" font-size="11" text-anchor="middle" font-weight="bold" fill="#111" >*</text>
<text x="487.00" y="300.80" font-size="11" text-anchor="middle" font-weight="bold" fill="#111" >*</text>
<rect x="390.3" y="259.8" width="19.6" height="8.8" fill="#fff" stroke="#333" stroke-width="1.2"/>
<rect x="389.7" y="272.5" width="20.6" height="9.1" fill="#bdbdbd"/>
<text x="412.4" y="266.9" font-size="8.5" fill="#111">NADPH<tspan font-size="7" dy="1.9">FT3</tspan><tspan dy="-1.9" dx="0.6">/NADPH</tspan><tspan font-size="6.2" dy="1.9">AM1 <tspan font-style="italic">ΔcelAB</tspan></tspan></text>
<text x="412.4" y="280.4" font-size="8.5" fill="#111">NADH<tspan font-size="7" dy="1.9">FT3</tspan><tspan dy="-1.9" dx="0.6">/NADH</tspan><tspan font-size="6.2" dy="1.9">AM1 <tspan font-style="italic">ΔcelAB</tspan></tspan></text>
<text transform="translate(362.9,347.8) rotate(-90)" font-size="10.2" font-weight="bold" text-anchor="middle" fill="#111">Concentration ratio</text>
<text x="423.90" y="445.00" font-size="9.6" text-anchor="middle" font-weight="bold" fill="#111" >120 mM M</text>
<text x="513.80" y="445.00" font-size="9.6" text-anchor="middle" font-weight="bold" fill="#111" >90 mM F + 30 mM M</text>
</svg></body></html>
